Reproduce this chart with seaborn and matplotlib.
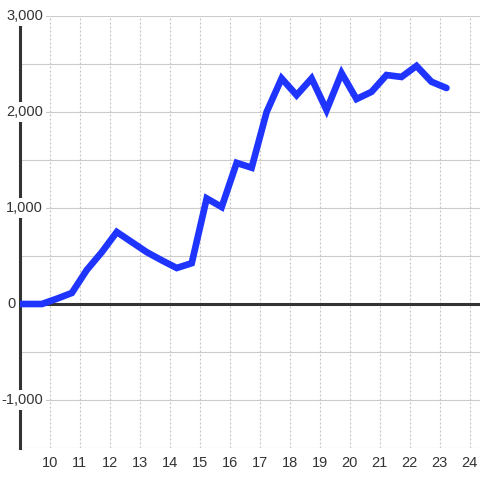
import matplotlib
matplotlib.use("Agg")
import matplotlib.pyplot as plt
import seaborn as sns
import pandas as pd

# data
hours = [8.73, 9.23, 9.73, 10.23, 10.73, 11.23, 11.73, 12.23, 12.73, 13.23,
         13.73, 14.23, 14.73, 15.23, 15.73, 16.23, 16.73, 17.23, 17.73, 18.23,
         18.73, 19.23, 19.73, 20.23, 20.73, 21.23, 21.73, 22.23, 22.73, 23.23]
values = [0, 0, 0, 55, 115, 355, 540, 750, 645, 540,
          455, 375, 425, 1100, 1010, 1470, 1420, 2000, 2350, 2175,
          2350, 2020, 2405, 2135, 2210, 2385, 2365, 2480, 2315, 2250]
x_ticks = list(range(10, 25))
y_ticks = [-1000, 0, 1000, 2000, 3000]
y_labels = ["-1,000", "0", "1,000", "2,000", "3,000"]

df = pd.DataFrame({"hour": hours, "value": values})

sns.set_style("white")
plt.rcParams["font.family"] = ["Liberation Sans", "DejaVu Sans"]

fig = plt.figure(figsize=(4.8, 4.8), dpi=100)
ax = fig.add_axes([20 / 480, 32 / 480, 460 / 480, 432 / 480])

sns.lineplot(data=df, x="hour", y="value", color="#1f35ff", linewidth=4.8,
             ax=ax, zorder=4, solid_joinstyle="miter")

ax.set_xlim(9, 24.35)
ax.set_ylim(-1500, 3000)

# grid
for v in range(-1500, 3001, 500):
    ax.axhline(v, color="#cccccc", linewidth=0.8, zorder=1)
for t in x_ticks:
    ax.axvline(t, color="#c4c4c4", linewidth=0.8, linestyle=(0, (1.8, 1.8)), zorder=1)
ax.axhline(0, color="#333333", linewidth=2.2, zorder=3)

ax.set_xticks(x_ticks)
ax.set_xticklabels([str(t) for t in x_ticks])
ax.set_yticks([])
ax.tick_params(axis="x", length=0, pad=5.5, labelsize=10.5, labelcolor="#333333")
ax.set_xlabel("")
ax.set_ylabel("")

for s in ["top", "right", "bottom"]:
    ax.spines[s].set_visible(False)
ax.spines["left"].set_color("#333333")
ax.spines["left"].set_linewidth(2.2)

trans = ax.get_yaxis_transform()
for v, lab in zip(y_ticks, y_labels):
    if v == 0:
        ax.text(-0.01, v, lab, transform=trans, ha="right", va="center",
                fontsize=10.5, color="#333333")
    else:
        ax.text(0.05, v, lab, transform=trans, ha="right", va="center",
                fontsize=10.5, color="#333333", zorder=5,
                bbox=dict(facecolor="white", edgecolor="none", pad=2))

fig.savefig("out.png", dpi=100)
